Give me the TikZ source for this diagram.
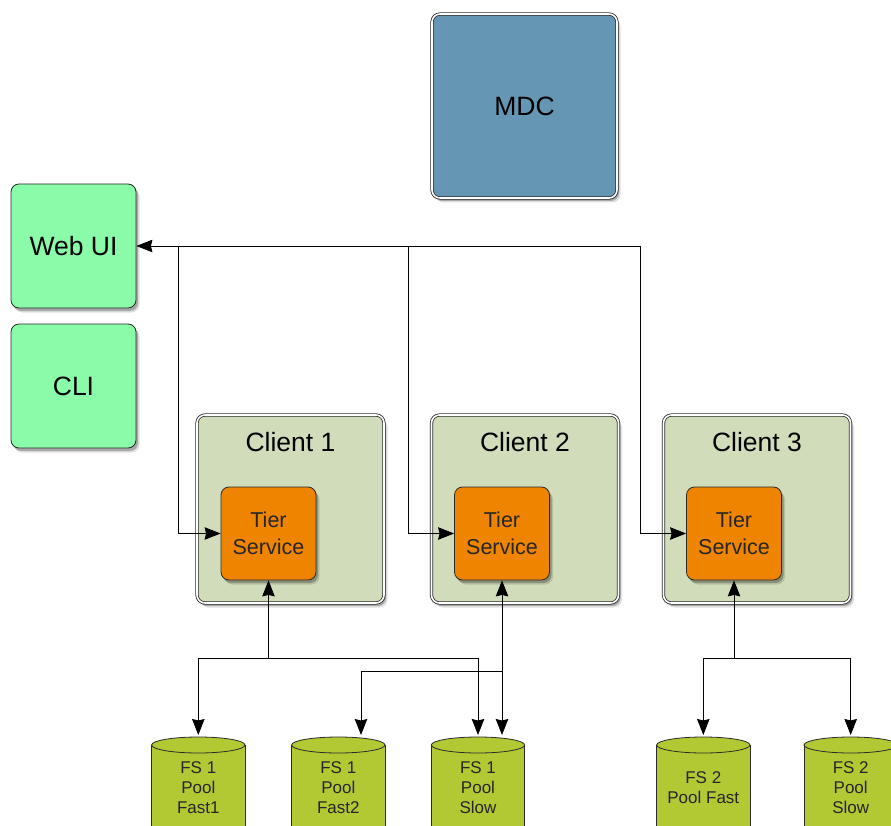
\documentclass[tikz,border=0pt]{standalone}
\usepackage{fontspec}
\setmainfont{Liberation Sans}
\usetikzlibrary{arrows.meta,shadows}
\definecolor{mdcblue}{HTML}{6596B3}
\definecolor{uigreen}{HTML}{8AFBA9}
\definecolor{clientgreen}{HTML}{D0DCBA}
\definecolor{tierorange}{HTML}{EE8400}
\definecolor{cylgreen}{HTML}{B3C934}
\definecolor{edgegray}{HTML}{2A2A2A}
\begin{document}
\begin{tikzpicture}[x=1pt,y=1pt,
  shadowed/.style={drop shadow={shadow xshift=3.5pt,shadow yshift=-4.5pt,opacity=.12,fill=black},
                   drop shadow={shadow xshift=2pt,shadow yshift=-3pt,opacity=.25,fill=black}},
  dblbox/.style={shadowed,rounded corners=8pt,draw=edgegray,line width=0.8pt,double=white,double distance=1.6pt,inner sep=0pt},
  mdcbox/.style={dblbox,fill=mdcblue,minimum width=185pt,minimum height=184pt,font=\fontsize{26.5}{30}\selectfont},
  clientbox/.style={dblbox,fill=clientgreen,minimum width=187pt,minimum height=188pt},
  uibox/.style={shadowed,rounded corners=8pt,draw=edgegray,line width=0.8pt,fill=uigreen,minimum width=125pt,minimum height=124pt,inner sep=0pt,font=\fontsize{26.5}{30}\selectfont},
  tierbox/.style={shadowed,rounded corners=8pt,draw=edgegray,line width=0.8pt,fill=tierorange,minimum width=95pt,minimum height=93pt,inner sep=0pt,align=center,font=\fontsize{21.5}{27}\selectfont,text=black!85},
  clientlbl/.style={anchor=base,inner sep=0pt,font=\fontsize{26.5}{30}\selectfont},
  cyltext/.style={align=center,inner sep=0pt,font=\fontsize{17}{20}\selectfont,text=black!85},
  cylline/.style={draw=edgegray,line width=0.8pt},
  conn/.style={draw=black,line width=0.9pt},
  arr/.style={conn,-{Stealth[length=16pt,width=12.5pt,inset=1.5pt]}}
]
\useasboundingbox (0,0) rectangle (891,-826);
\clip (0,0) rectangle (891,-826);

% top boxes
\node[mdcbox] (mdc) at (524.5,-106) {MDC};
\node[uibox] (webui) at (73.5,-246) {Web UI};
\node[uibox] (cli) at (73.5,-386) {CLI};

% clients
\node[clientbox] (client1) at (290.5,-509) {};
\node[clientbox] (client2) at (525,-509) {};
\node[clientbox] (client3) at (757,-509) {};
\node[clientlbl] (client1lbl) at (290.5,-451) {Client 1};
\node[clientlbl] (client2lbl) at (525,-451) {Client 2};
\node[clientlbl] (client3lbl) at (757,-451) {Client 3};

\node[tierbox] (tier1) at (268.5,-533.5) {Tier\\Service};
\node[tierbox] (tier2) at (502,-533.5) {Tier\\Service};
\node[tierbox] (tier3) at (734,-533.5) {Tier\\Service};

% cylinders
\foreach \cx in {198.3,338.3,478,703.3,850.7} {
  \fill[cylgreen] (\cx-46.7,-745) rectangle (\cx+46.7,-840);
  \draw[cylline] (\cx-46.7,-745) -- (\cx-46.7,-840) (\cx+46.7,-745) -- (\cx+46.7,-840);
  \draw[cylline,fill=cylgreen] (\cx,-745) ellipse [x radius=46.7pt,y radius=8pt];
}
\node[cyltext] (cyl1) at (198.3,-788) {FS 1\\Pool\\Fast1};
\node[cyltext] (cyl2) at (338.3,-788) {FS 1\\Pool\\Fast2};
\node[cyltext] (cyl3) at (478,-788) {FS 1\\Pool\\Slow};
\node[cyltext] (cyl4) at (703.3,-788) {FS 2\\Pool Fast};
\node[cyltext] (cyl5) at (850.7,-788) {FS 2\\Pool\\Slow};

% bus to web ui
\coordinate (bus1) at (178,-246);
\coordinate (bus2) at (408,-246);
\coordinate (bus3) at (640,-246);
\draw[arr] (bus3) -- (webui.east);
\draw[arr] (bus1) |- (tier1.west);
\draw[arr] (bus2) |- (tier2.west);
\draw[arr] (bus3) |- (tier3.west);

% storage connections
\coordinate (j1) at (268.5,-658);
\coordinate (j2) at (502,-671);
\coordinate (j3) at (734,-658);
\coordinate (in1) at (198.3,-735);
\coordinate (in2) at (361,-735);
\coordinate (in3a) at (478,-735);
\coordinate (in3b) at (502,-735);
\coordinate (in4) at (703.3,-735);
\coordinate (in5) at (850.7,-735);
\draw[arr] (j1) -- (tier1.south);
\draw[arr] (j1) -| (in1);
\draw[arr] (j1) -| (in3a);
\draw[arr] (j2) -- (tier2.south);
\draw[arr] (j2) -| (in2);
\draw[arr] (j2) -- (in3b);
\draw[arr] (j3) -- (tier3.south);
\draw[arr] (j3) -| (in4);
\draw[arr] (j3) -| (in5);
\end{tikzpicture}
\end{document}
